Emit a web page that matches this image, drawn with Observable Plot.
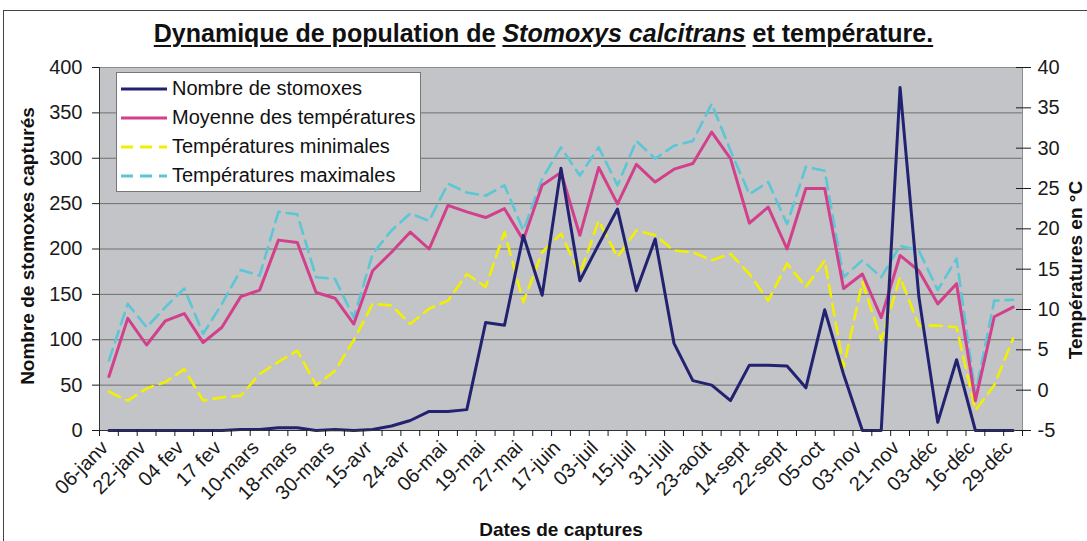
<!DOCTYPE html>
<html><head><meta charset="utf-8">
<script src="https://cdn.jsdelivr.net/npm/d3@7"></script>
<script src="https://cdn.jsdelivr.net/npm/@observablehq/plot@0.6"></script>
<style>
html,body{margin:0;padding:0;background:#fff;}
#wrap{position:relative;width:1087px;height:541px;overflow:hidden;background:#fff;font-family:"Liberation Sans",Arial,sans-serif;color:#111;}
#border{position:absolute;left:3px;top:10px;width:1120px;height:600px;border:1px solid #444;}
#title{position:relative;height:52px;box-sizing:border-box;padding-top:19px;text-align:center;font-weight:bold;font-size:25px;line-height:28px;white-space:nowrap;}
#title u{text-decoration-thickness:2px;text-underline-offset:3px;}
#chart{position:relative;height:489px;}
#legend{position:absolute;left:116px;top:72px;width:303px;height:117px;border:1px solid #777;background:#fff;padding-top:1px;box-sizing:content-box;}
.row{height:29px;display:flex;align-items:center;font-size:20px;white-space:nowrap;}
.row svg{margin-left:4px;margin-right:5px;}
.atitle{position:absolute;font-weight:bold;font-size:19px;line-height:22px;white-space:nowrap;}
</style></head>
<body>
<div id="wrap">
<div id="border"></div>
<div id="title"><u>Dynamique de population de</u> <u><i>Stomoxys calcitrans</i></u> <u>et température.</u></div>
<div id="chart"></div>
<div id="legend"></div>
<div class="atitle" style="left:28px;top:246px;transform:translate(-50%,-50%) rotate(-90deg);">Nombre de stomoxes capturés</div>
<div class="atitle" style="left:1076px;top:270px;transform:translate(-50%,-50%) rotate(-90deg);">Températures en °C</div>
<div class="atitle" style="left:0;width:1122px;text-align:center;top:519px;">Dates de captures</div>
</div>
<script>
// ---- data ----
const dateLabels = ["06-janv","22-janv","04 fev","17 fev","10-mars","18-mars","30-mars","15-avr","24-avr","06-mai","19-mai","27-mai","17-juin","03-juil","15-juil","31-juil","23-août","14-sept","22-sept","05-oct","03-nov","21-nov","03-déc","16-déc","29-déc"];
const stomoxes = [0,0,0,0,0,0,0,1,1,3,3,0,1,0,1,5,11,21,21,23,119,116,215,149,289,165,205,244,154,211,96,55,50,33,72,72,71,47,133,62,0,0,378,147,9,78,0,0,0];
const tMean = [1.7,8.9,5.6,8.6,9.5,5.9,7.8,11.6,12.4,18.6,18.3,12.1,11.4,8.2,14.8,17.1,19.6,17.5,22.9,22.1,21.4,22.5,18.6,25.4,27.0,19.2,27.6,23.1,28.0,25.8,27.4,28.1,32.0,28.7,20.7,22.7,17.5,25.0,25.0,12.6,14.4,9.0,16.7,14.8,10.7,13.2,-1.3,9.1,10.3];
const tMin = [-0.2,-1.3,0.2,1.0,2.6,-1.3,-0.9,-0.7,2.0,3.5,4.9,0.6,2.4,6.2,10.7,10.5,8.2,10.1,11.1,14.4,12.8,19.6,10.9,17.1,19.4,14.4,21.0,16.5,19.8,19.2,17.3,17.1,16.1,16.9,14.4,11.1,15.7,12.8,16.1,2.8,13.4,6.2,14.0,8.0,8.0,7.8,-2.5,0.6,6.4];
const tMax = [3.7,10.7,7.8,10.3,12.6,7.0,10.7,14.9,14.2,22.1,21.8,14.0,13.8,9.0,16.9,19.8,21.9,21.0,25.6,24.5,24.1,25.4,19.8,26.2,30.1,26.6,30.1,25.4,30.9,28.7,30.3,30.9,35.5,29.7,24.3,25.8,20.6,27.7,27.2,14.0,16.1,14.0,17.9,17.3,12.4,16.3,-0.5,11.1,11.2];
const leftTicks = [0,50,100,150,200,250,300,350,400];
const rightTicks = [-5,0,5,10,15,20,25,30,35,40];
const seriesNames = ["Nombre de stomoxes","Moyenne des températures","Températures minimales","Températures maximales"];
const seriesColors = ["#222270","#d2408c","#f2f000","#5cc6d6"];

// ---- helpers ----
const n = stomoxes.length;
const toY = t => (t + 5) * 400 / 45;
const fromY = v => Math.round(v * 45 / 400 - 5);
const rowsOf = arr => arr.map((v, i) => ({i, v}));
const tempRows = arr => arr.map((t, i) => ({i, v: toY(t)}));
const boundaries = d3.range(n + 1).map(k => k - 0.5);
const evenIdx = d3.range(0, n, 2);

const chart = Plot.plot({
  width: 1087, height: 489,
  marginLeft: 99, marginRight: 65, marginTop: 15, marginBottom: 111,
  style: {fontFamily: '"Liberation Sans", Arial, sans-serif', fontSize: "20px", color: "#1a1a1a", background: "transparent"},
  x: {domain: [-0.5, n - 0.5], axis: null},
  y: {domain: [0, 400], axis: null},
  marks: [
    Plot.frame({fill: "#c2c4c7", stroke: null}),
    Plot.ruleY([50,100,150,200,250,300,350], {stroke: "#6f6f6f", strokeWidth: 1}),
    Plot.ruleY([400], {stroke: "#8c8c8c", strokeWidth: 1}),
    Plot.ruleX([n - 0.5], {stroke: "#8c8c8c", strokeWidth: 1}),
    Plot.line(tempRows(tMin), {x: "i", y: "v", stroke: seriesColors[2], strokeWidth: 2.6, strokeDasharray: "12,7"}),
    Plot.line(tempRows(tMax), {x: "i", y: "v", stroke: seriesColors[3], strokeWidth: 2.6, strokeDasharray: "12,7"}),
    Plot.line(tempRows(tMean), {x: "i", y: "v", stroke: seriesColors[1], strokeWidth: 3}),
    Plot.line(rowsOf(stomoxes), {x: "i", y: "v", stroke: seriesColors[0], strokeWidth: 3}),
    Plot.ruleX([-0.5], {stroke: "#333", strokeWidth: 1}),
    Plot.ruleY([0], {stroke: "#333", strokeWidth: 1}),
    Plot.axisY(leftTicks, {anchor: "left", tickSize: 7, tickPadding: 10, label: null, fontSize: 20}),
    Plot.axisY(rightTicks.map(toY), {anchor: "right", tickSize: 8, tickPadding: 7, label: null, fontSize: 20, tickFormat: fromY}),
    Plot.axisY(rightTicks.map(toY), {anchor: "right", tickSize: -7, label: null, tickFormat: () => ""}),
    Plot.axisX(boundaries, {tickSize: 6, label: null, tickFormat: () => ""}),
    Plot.axisX(evenIdx, {tickSize: 0, tickPadding: 14, dx: -4, tickRotate: -45, label: null, fontSize: 20, tickFormat: i => dateLabels[i / 2]})
  ]
});
document.getElementById("chart").appendChild(chart);

// ---- legend ----
const legend = document.getElementById("legend");
seriesNames.forEach((name, k) => {
  const row = document.createElement("div");
  row.className = "row";
  const dash = k >= 2 ? 'stroke-dasharray="12,7"' : "";
  row.innerHTML = `<svg width="46" height="8"><line x1="0" y1="4" x2="46" y2="4" stroke="${seriesColors[k]}" stroke-width="3" ${dash}/></svg><span>${name}</span>`;
  legend.appendChild(row);
});
</script>
</body></html>
